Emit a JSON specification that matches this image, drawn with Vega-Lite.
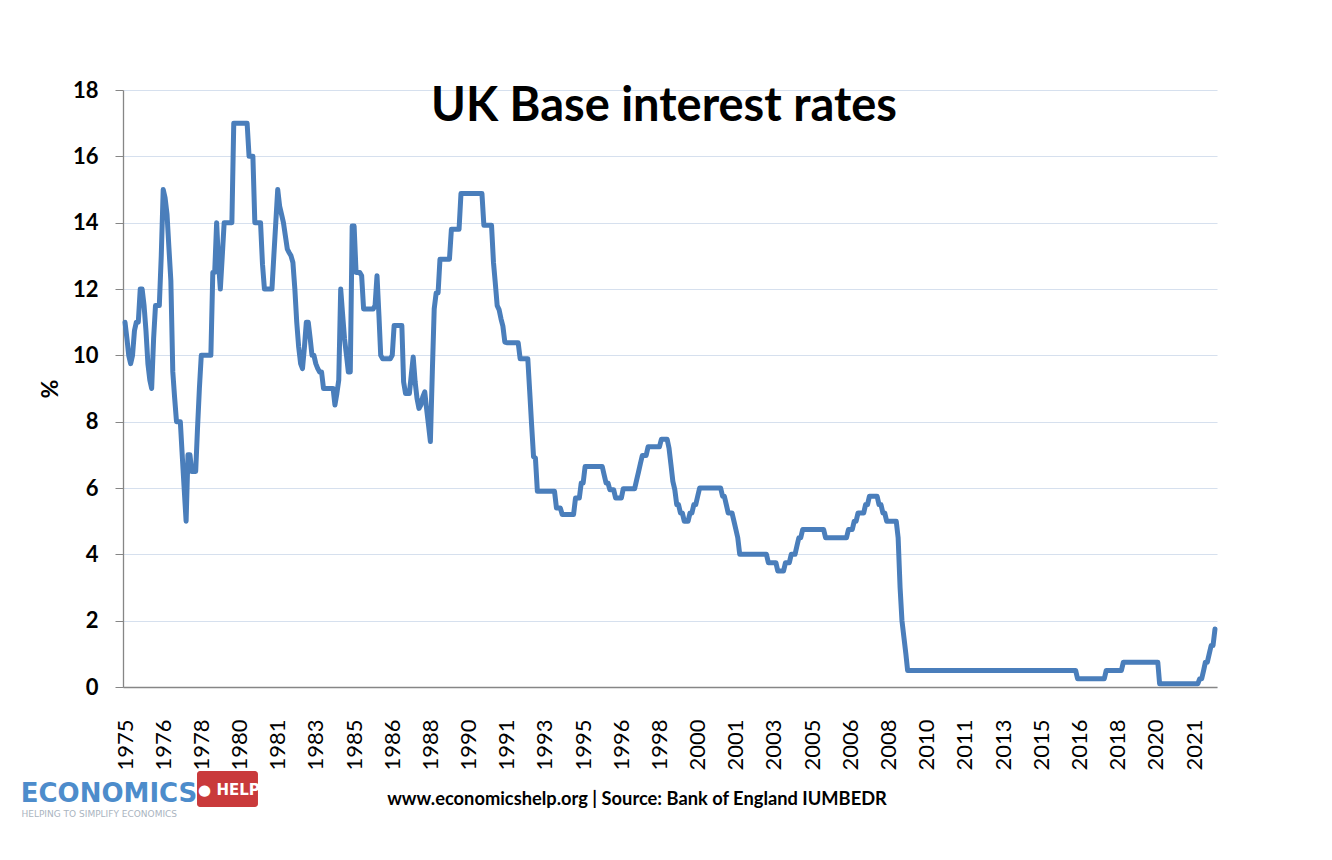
{
  "$schema": "https://vega.github.io/schema/vega-lite/v6.json",
  "width": 1094,
  "height": 597,
  "autosize": {"type": "none"},
  "padding": {"left": 123, "top": 90, "right": 115, "bottom": 173},
  "background": "white",
  "title": {"text": "UK Base interest rates", "font": "Lato", "fontSize": 47, "fontWeight": "bold", "color": "#000000", "anchor": "middle", "baseline": "alphabetic", "offset": 0, "dy": 89, "dx": -6},
  "config": {"view": {"stroke": null}, "axis": {"labelOverlap": false}, "axisX": {"labelOverlap": false, "labelFlush": false}},
  "resolve": {"axis": {"x": "independent", "y": "independent"}},
  "datasets": {
    "rates": [
      {"date":"1975-01","rate":11},{"date":"1975-02","rate":10.5},{"date":"1975-03","rate":10},{"date":"1975-04","rate":9.75},{"date":"1975-05","rate":10},{"date":"1975-06","rate":10.75},{"date":"1975-07","rate":11},{"date":"1975-08","rate":11},{"date":"1975-09","rate":12},{"date":"1975-10","rate":12},{"date":"1975-11","rate":11.5},{"date":"1975-12","rate":10.75},
      {"date":"1976-01","rate":9.75},{"date":"1976-02","rate":9.25},{"date":"1976-03","rate":9},{"date":"1976-04","rate":10.5},{"date":"1976-05","rate":11.5},{"date":"1976-06","rate":11.5},{"date":"1976-07","rate":11.5},{"date":"1976-08","rate":13},{"date":"1976-09","rate":15},{"date":"1976-10","rate":14.75},{"date":"1976-11","rate":14.25},{"date":"1976-12","rate":13.25},
      {"date":"1977-01","rate":12.25},{"date":"1977-02","rate":9.5},{"date":"1977-03","rate":8.75},{"date":"1977-04","rate":8},{"date":"1977-05","rate":8},{"date":"1977-06","rate":8},{"date":"1977-07","rate":7},{"date":"1977-08","rate":6},{"date":"1977-09","rate":5},{"date":"1977-10","rate":7},{"date":"1977-11","rate":7},{"date":"1977-12","rate":6.5},
      {"date":"1978-01","rate":6.5},{"date":"1978-02","rate":6.5},{"date":"1978-03","rate":7.75},{"date":"1978-04","rate":9},{"date":"1978-05","rate":10},{"date":"1978-06","rate":10},{"date":"1978-07","rate":10},{"date":"1978-08","rate":10},{"date":"1978-09","rate":10},{"date":"1978-10","rate":10},{"date":"1978-11","rate":12.5},{"date":"1978-12","rate":12.5},
      {"date":"1979-01","rate":14},{"date":"1979-02","rate":12.75},{"date":"1979-03","rate":12},{"date":"1979-04","rate":13},{"date":"1979-05","rate":14},{"date":"1979-06","rate":14},{"date":"1979-07","rate":14},{"date":"1979-08","rate":14},{"date":"1979-09","rate":14},{"date":"1979-10","rate":17},{"date":"1979-11","rate":17},{"date":"1979-12","rate":17},
      {"date":"1980-01","rate":17},{"date":"1980-02","rate":17},{"date":"1980-03","rate":17},{"date":"1980-04","rate":17},{"date":"1980-05","rate":17},{"date":"1980-06","rate":16},{"date":"1980-07","rate":16},{"date":"1980-08","rate":16},{"date":"1980-09","rate":14},{"date":"1980-10","rate":14},{"date":"1980-11","rate":14},{"date":"1980-12","rate":14},
      {"date":"1981-01","rate":12.75},{"date":"1981-02","rate":12},{"date":"1981-03","rate":12},{"date":"1981-04","rate":12},{"date":"1981-05","rate":12},{"date":"1981-06","rate":12},{"date":"1981-07","rate":13},{"date":"1981-08","rate":14},{"date":"1981-09","rate":15},{"date":"1981-10","rate":14.5},{"date":"1981-11","rate":14.25},{"date":"1981-12","rate":14},
      {"date":"1982-01","rate":13.6},{"date":"1982-02","rate":13.2},{"date":"1982-03","rate":13.1},{"date":"1982-04","rate":13},{"date":"1982-05","rate":12.8},{"date":"1982-06","rate":12},{"date":"1982-07","rate":11},{"date":"1982-08","rate":10.25},{"date":"1982-09","rate":9.75},{"date":"1982-10","rate":9.6},{"date":"1982-11","rate":10.25},{"date":"1982-12","rate":11},
      {"date":"1983-01","rate":11},{"date":"1983-02","rate":10.5},{"date":"1983-03","rate":10},{"date":"1983-04","rate":10},{"date":"1983-05","rate":9.75},{"date":"1983-06","rate":9.6},{"date":"1983-07","rate":9.5},{"date":"1983-08","rate":9.5},{"date":"1983-09","rate":9},{"date":"1983-10","rate":9},{"date":"1983-11","rate":9},{"date":"1983-12","rate":9},
      {"date":"1984-01","rate":9},{"date":"1984-02","rate":9},{"date":"1984-03","rate":8.5},{"date":"1984-04","rate":8.85},{"date":"1984-05","rate":9.25},{"date":"1984-06","rate":12},{"date":"1984-07","rate":11.25},{"date":"1984-08","rate":10.5},{"date":"1984-09","rate":10},{"date":"1984-10","rate":9.5},{"date":"1984-11","rate":9.5},{"date":"1984-12","rate":13.9},
      {"date":"1985-01","rate":13.9},{"date":"1985-02","rate":12.5},{"date":"1985-03","rate":12.5},{"date":"1985-04","rate":12.5},{"date":"1985-05","rate":12.4},{"date":"1985-06","rate":11.4},{"date":"1985-07","rate":11.4},{"date":"1985-08","rate":11.4},{"date":"1985-09","rate":11.4},{"date":"1985-10","rate":11.4},{"date":"1985-11","rate":11.4},{"date":"1985-12","rate":11.5},
      {"date":"1986-01","rate":12.4},{"date":"1986-02","rate":11.2},{"date":"1986-03","rate":10},{"date":"1986-04","rate":9.9},{"date":"1986-05","rate":9.9},{"date":"1986-06","rate":9.9},{"date":"1986-07","rate":9.9},{"date":"1986-08","rate":9.9},{"date":"1986-09","rate":10},{"date":"1986-10","rate":10.9},{"date":"1986-11","rate":10.9},{"date":"1986-12","rate":10.9},
      {"date":"1987-01","rate":10.9},{"date":"1987-02","rate":10.9},{"date":"1987-03","rate":9.2},{"date":"1987-04","rate":8.85},{"date":"1987-05","rate":8.85},{"date":"1987-06","rate":8.85},{"date":"1987-07","rate":9.4},{"date":"1987-08","rate":9.95},{"date":"1987-09","rate":9.2},{"date":"1987-10","rate":8.7},{"date":"1987-11","rate":8.4},{"date":"1987-12","rate":8.5},
      {"date":"1988-01","rate":8.75},{"date":"1988-02","rate":8.9},{"date":"1988-03","rate":8.4},{"date":"1988-04","rate":7.9},{"date":"1988-05","rate":7.4},{"date":"1988-06","rate":9.5},{"date":"1988-07","rate":11.4},{"date":"1988-08","rate":11.88},{"date":"1988-09","rate":11.88},{"date":"1988-10","rate":12.9},{"date":"1988-11","rate":12.9},{"date":"1988-12","rate":12.9},
      {"date":"1989-01","rate":12.9},{"date":"1989-02","rate":12.9},{"date":"1989-03","rate":12.9},{"date":"1989-04","rate":13.8},{"date":"1989-05","rate":13.8},{"date":"1989-06","rate":13.8},{"date":"1989-07","rate":13.8},{"date":"1989-08","rate":13.8},{"date":"1989-09","rate":14.88},{"date":"1989-10","rate":14.88},{"date":"1989-11","rate":14.88},{"date":"1989-12","rate":14.88},
      {"date":"1990-01","rate":14.88},{"date":"1990-02","rate":14.88},{"date":"1990-03","rate":14.88},{"date":"1990-04","rate":14.88},{"date":"1990-05","rate":14.88},{"date":"1990-06","rate":14.88},{"date":"1990-07","rate":14.88},{"date":"1990-08","rate":14.88},{"date":"1990-09","rate":13.92},{"date":"1990-10","rate":13.92},{"date":"1990-11","rate":13.92},{"date":"1990-12","rate":13.92},
      {"date":"1991-01","rate":13.92},{"date":"1991-02","rate":12.8},{"date":"1991-03","rate":12.2},{"date":"1991-04","rate":11.5},{"date":"1991-05","rate":11.38},{"date":"1991-06","rate":11.1},{"date":"1991-07","rate":10.88},{"date":"1991-08","rate":10.4},{"date":"1991-09","rate":10.38},{"date":"1991-10","rate":10.38},{"date":"1991-11","rate":10.38},{"date":"1991-12","rate":10.38},
      {"date":"1992-01","rate":10.38},{"date":"1992-02","rate":10.38},{"date":"1992-03","rate":10.38},{"date":"1992-04","rate":9.9},{"date":"1992-05","rate":9.9},{"date":"1992-06","rate":9.9},{"date":"1992-07","rate":9.9},{"date":"1992-08","rate":9.9},{"date":"1992-09","rate":8.9},{"date":"1992-10","rate":7.9},{"date":"1992-11","rate":6.94},{"date":"1992-12","rate":6.9},
      {"date":"1993-01","rate":5.9},{"date":"1993-02","rate":5.9},{"date":"1993-03","rate":5.9},{"date":"1993-04","rate":5.9},{"date":"1993-05","rate":5.9},{"date":"1993-06","rate":5.9},{"date":"1993-07","rate":5.9},{"date":"1993-08","rate":5.9},{"date":"1993-09","rate":5.9},{"date":"1993-10","rate":5.9},{"date":"1993-11","rate":5.4},{"date":"1993-12","rate":5.4},
      {"date":"1994-01","rate":5.4},{"date":"1994-02","rate":5.2},{"date":"1994-03","rate":5.2},{"date":"1994-04","rate":5.2},{"date":"1994-05","rate":5.2},{"date":"1994-06","rate":5.2},{"date":"1994-07","rate":5.2},{"date":"1994-08","rate":5.2},{"date":"1994-09","rate":5.7},{"date":"1994-10","rate":5.7},{"date":"1994-11","rate":5.7},{"date":"1994-12","rate":6.15},
      {"date":"1995-01","rate":6.15},{"date":"1995-02","rate":6.65},{"date":"1995-03","rate":6.65},{"date":"1995-04","rate":6.65},{"date":"1995-05","rate":6.65},{"date":"1995-06","rate":6.65},{"date":"1995-07","rate":6.65},{"date":"1995-08","rate":6.65},{"date":"1995-09","rate":6.65},{"date":"1995-10","rate":6.65},{"date":"1995-11","rate":6.65},{"date":"1995-12","rate":6.4},
      {"date":"1996-01","rate":6.15},{"date":"1996-02","rate":6.15},{"date":"1996-03","rate":5.95},{"date":"1996-04","rate":5.95},{"date":"1996-05","rate":5.95},{"date":"1996-06","rate":5.7},{"date":"1996-07","rate":5.7},{"date":"1996-08","rate":5.7},{"date":"1996-09","rate":5.7},{"date":"1996-10","rate":5.98},{"date":"1996-11","rate":5.98},{"date":"1996-12","rate":5.98},
      {"date":"1997-01","rate":5.98},{"date":"1997-02","rate":5.98},{"date":"1997-03","rate":5.98},{"date":"1997-04","rate":5.98},{"date":"1997-05","rate":6.23},{"date":"1997-06","rate":6.48},{"date":"1997-07","rate":6.73},{"date":"1997-08","rate":6.98},{"date":"1997-09","rate":6.98},{"date":"1997-10","rate":6.98},{"date":"1997-11","rate":7.24},{"date":"1997-12","rate":7.24},
      {"date":"1998-01","rate":7.24},{"date":"1998-02","rate":7.24},{"date":"1998-03","rate":7.24},{"date":"1998-04","rate":7.24},{"date":"1998-05","rate":7.24},{"date":"1998-06","rate":7.47},{"date":"1998-07","rate":7.47},{"date":"1998-08","rate":7.47},{"date":"1998-09","rate":7.47},{"date":"1998-10","rate":7.2},{"date":"1998-11","rate":6.7},{"date":"1998-12","rate":6.2},
      {"date":"1999-01","rate":5.95},{"date":"1999-02","rate":5.5},{"date":"1999-03","rate":5.5},{"date":"1999-04","rate":5.25},{"date":"1999-05","rate":5.25},{"date":"1999-06","rate":5},{"date":"1999-07","rate":5},{"date":"1999-08","rate":5},{"date":"1999-09","rate":5.25},{"date":"1999-10","rate":5.25},{"date":"1999-11","rate":5.5},{"date":"1999-12","rate":5.5},
      {"date":"2000-01","rate":5.75},{"date":"2000-02","rate":6},{"date":"2000-03","rate":6},{"date":"2000-04","rate":6},{"date":"2000-05","rate":6},{"date":"2000-06","rate":6},{"date":"2000-07","rate":6},{"date":"2000-08","rate":6},{"date":"2000-09","rate":6},{"date":"2000-10","rate":6},{"date":"2000-11","rate":6},{"date":"2000-12","rate":6},
      {"date":"2001-01","rate":6},{"date":"2001-02","rate":5.75},{"date":"2001-03","rate":5.75},{"date":"2001-04","rate":5.5},{"date":"2001-05","rate":5.25},{"date":"2001-06","rate":5.25},{"date":"2001-07","rate":5.25},{"date":"2001-08","rate":5},{"date":"2001-09","rate":4.75},{"date":"2001-10","rate":4.5},{"date":"2001-11","rate":4},{"date":"2001-12","rate":4},
      {"date":"2002-01","rate":4},{"date":"2002-02","rate":4},{"date":"2002-03","rate":4},{"date":"2002-04","rate":4},{"date":"2002-05","rate":4},{"date":"2002-06","rate":4},{"date":"2002-07","rate":4},{"date":"2002-08","rate":4},{"date":"2002-09","rate":4},{"date":"2002-10","rate":4},{"date":"2002-11","rate":4},{"date":"2002-12","rate":4},
      {"date":"2003-01","rate":4},{"date":"2003-02","rate":3.75},{"date":"2003-03","rate":3.75},{"date":"2003-04","rate":3.75},{"date":"2003-05","rate":3.75},{"date":"2003-06","rate":3.75},{"date":"2003-07","rate":3.5},{"date":"2003-08","rate":3.5},{"date":"2003-09","rate":3.5},{"date":"2003-10","rate":3.5},{"date":"2003-11","rate":3.75},{"date":"2003-12","rate":3.75},
      {"date":"2004-01","rate":3.75},{"date":"2004-02","rate":4},{"date":"2004-03","rate":4},{"date":"2004-04","rate":4},{"date":"2004-05","rate":4.25},{"date":"2004-06","rate":4.5},{"date":"2004-07","rate":4.5},{"date":"2004-08","rate":4.75},{"date":"2004-09","rate":4.75},{"date":"2004-10","rate":4.75},{"date":"2004-11","rate":4.75},{"date":"2004-12","rate":4.75},
      {"date":"2005-01","rate":4.75},{"date":"2005-02","rate":4.75},{"date":"2005-03","rate":4.75},{"date":"2005-04","rate":4.75},{"date":"2005-05","rate":4.75},{"date":"2005-06","rate":4.75},{"date":"2005-07","rate":4.75},{"date":"2005-08","rate":4.5},{"date":"2005-09","rate":4.5},{"date":"2005-10","rate":4.5},{"date":"2005-11","rate":4.5},{"date":"2005-12","rate":4.5},
      {"date":"2006-01","rate":4.5},{"date":"2006-02","rate":4.5},{"date":"2006-03","rate":4.5},{"date":"2006-04","rate":4.5},{"date":"2006-05","rate":4.5},{"date":"2006-06","rate":4.5},{"date":"2006-07","rate":4.5},{"date":"2006-08","rate":4.75},{"date":"2006-09","rate":4.75},{"date":"2006-10","rate":4.75},{"date":"2006-11","rate":5},{"date":"2006-12","rate":5},
      {"date":"2007-01","rate":5.25},{"date":"2007-02","rate":5.25},{"date":"2007-03","rate":5.25},{"date":"2007-04","rate":5.25},{"date":"2007-05","rate":5.5},{"date":"2007-06","rate":5.5},{"date":"2007-07","rate":5.75},{"date":"2007-08","rate":5.75},{"date":"2007-09","rate":5.75},{"date":"2007-10","rate":5.75},{"date":"2007-11","rate":5.75},{"date":"2007-12","rate":5.5},
      {"date":"2008-01","rate":5.5},{"date":"2008-02","rate":5.25},{"date":"2008-03","rate":5.25},{"date":"2008-04","rate":5},{"date":"2008-05","rate":5},{"date":"2008-06","rate":5},{"date":"2008-07","rate":5},{"date":"2008-08","rate":5},{"date":"2008-09","rate":5},{"date":"2008-10","rate":4.5},{"date":"2008-11","rate":3},{"date":"2008-12","rate":2},
      {"date":"2009-01","rate":1.5},{"date":"2009-02","rate":1},{"date":"2009-03","rate":0.5},{"date":"2009-04","rate":0.5},{"date":"2009-05","rate":0.5},{"date":"2009-06","rate":0.5},{"date":"2009-07","rate":0.5},{"date":"2009-08","rate":0.5},{"date":"2009-09","rate":0.5},{"date":"2009-10","rate":0.5},{"date":"2009-11","rate":0.5},{"date":"2009-12","rate":0.5},
      {"date":"2010-01","rate":0.5},{"date":"2010-02","rate":0.5},{"date":"2010-03","rate":0.5},{"date":"2010-04","rate":0.5},{"date":"2010-05","rate":0.5},{"date":"2010-06","rate":0.5},{"date":"2010-07","rate":0.5},{"date":"2010-08","rate":0.5},{"date":"2010-09","rate":0.5},{"date":"2010-10","rate":0.5},{"date":"2010-11","rate":0.5},{"date":"2010-12","rate":0.5},
      {"date":"2011-01","rate":0.5},{"date":"2011-02","rate":0.5},{"date":"2011-03","rate":0.5},{"date":"2011-04","rate":0.5},{"date":"2011-05","rate":0.5},{"date":"2011-06","rate":0.5},{"date":"2011-07","rate":0.5},{"date":"2011-08","rate":0.5},{"date":"2011-09","rate":0.5},{"date":"2011-10","rate":0.5},{"date":"2011-11","rate":0.5},{"date":"2011-12","rate":0.5},
      {"date":"2012-01","rate":0.5},{"date":"2012-02","rate":0.5},{"date":"2012-03","rate":0.5},{"date":"2012-04","rate":0.5},{"date":"2012-05","rate":0.5},{"date":"2012-06","rate":0.5},{"date":"2012-07","rate":0.5},{"date":"2012-08","rate":0.5},{"date":"2012-09","rate":0.5},{"date":"2012-10","rate":0.5},{"date":"2012-11","rate":0.5},{"date":"2012-12","rate":0.5},
      {"date":"2013-01","rate":0.5},{"date":"2013-02","rate":0.5},{"date":"2013-03","rate":0.5},{"date":"2013-04","rate":0.5},{"date":"2013-05","rate":0.5},{"date":"2013-06","rate":0.5},{"date":"2013-07","rate":0.5},{"date":"2013-08","rate":0.5},{"date":"2013-09","rate":0.5},{"date":"2013-10","rate":0.5},{"date":"2013-11","rate":0.5},{"date":"2013-12","rate":0.5},
      {"date":"2014-01","rate":0.5},{"date":"2014-02","rate":0.5},{"date":"2014-03","rate":0.5},{"date":"2014-04","rate":0.5},{"date":"2014-05","rate":0.5},{"date":"2014-06","rate":0.5},{"date":"2014-07","rate":0.5},{"date":"2014-08","rate":0.5},{"date":"2014-09","rate":0.5},{"date":"2014-10","rate":0.5},{"date":"2014-11","rate":0.5},{"date":"2014-12","rate":0.5},
      {"date":"2015-01","rate":0.5},{"date":"2015-02","rate":0.5},{"date":"2015-03","rate":0.5},{"date":"2015-04","rate":0.5},{"date":"2015-05","rate":0.5},{"date":"2015-06","rate":0.5},{"date":"2015-07","rate":0.5},{"date":"2015-08","rate":0.5},{"date":"2015-09","rate":0.5},{"date":"2015-10","rate":0.5},{"date":"2015-11","rate":0.5},{"date":"2015-12","rate":0.5},
      {"date":"2016-01","rate":0.5},{"date":"2016-02","rate":0.5},{"date":"2016-03","rate":0.5},{"date":"2016-04","rate":0.5},{"date":"2016-05","rate":0.5},{"date":"2016-06","rate":0.5},{"date":"2016-07","rate":0.5},{"date":"2016-08","rate":0.25},{"date":"2016-09","rate":0.25},{"date":"2016-10","rate":0.25},{"date":"2016-11","rate":0.25},{"date":"2016-12","rate":0.25},
      {"date":"2017-01","rate":0.25},{"date":"2017-02","rate":0.25},{"date":"2017-03","rate":0.25},{"date":"2017-04","rate":0.25},{"date":"2017-05","rate":0.25},{"date":"2017-06","rate":0.25},{"date":"2017-07","rate":0.25},{"date":"2017-08","rate":0.25},{"date":"2017-09","rate":0.25},{"date":"2017-10","rate":0.25},{"date":"2017-11","rate":0.5},{"date":"2017-12","rate":0.5},
      {"date":"2018-01","rate":0.5},{"date":"2018-02","rate":0.5},{"date":"2018-03","rate":0.5},{"date":"2018-04","rate":0.5},{"date":"2018-05","rate":0.5},{"date":"2018-06","rate":0.5},{"date":"2018-07","rate":0.5},{"date":"2018-08","rate":0.75},{"date":"2018-09","rate":0.75},{"date":"2018-10","rate":0.75},{"date":"2018-11","rate":0.75},{"date":"2018-12","rate":0.75},
      {"date":"2019-01","rate":0.75},{"date":"2019-02","rate":0.75},{"date":"2019-03","rate":0.75},{"date":"2019-04","rate":0.75},{"date":"2019-05","rate":0.75},{"date":"2019-06","rate":0.75},{"date":"2019-07","rate":0.75},{"date":"2019-08","rate":0.75},{"date":"2019-09","rate":0.75},{"date":"2019-10","rate":0.75},{"date":"2019-11","rate":0.75},{"date":"2019-12","rate":0.75},
      {"date":"2020-01","rate":0.75},{"date":"2020-02","rate":0.75},{"date":"2020-03","rate":0.1},{"date":"2020-04","rate":0.1},{"date":"2020-05","rate":0.1},{"date":"2020-06","rate":0.1},{"date":"2020-07","rate":0.1},{"date":"2020-08","rate":0.1},{"date":"2020-09","rate":0.1},{"date":"2020-10","rate":0.1},{"date":"2020-11","rate":0.1},{"date":"2020-12","rate":0.1},
      {"date":"2021-01","rate":0.1},{"date":"2021-02","rate":0.1},{"date":"2021-03","rate":0.1},{"date":"2021-04","rate":0.1},{"date":"2021-05","rate":0.1},{"date":"2021-06","rate":0.1},{"date":"2021-07","rate":0.1},{"date":"2021-08","rate":0.1},{"date":"2021-09","rate":0.1},{"date":"2021-10","rate":0.1},{"date":"2021-11","rate":0.1},{"date":"2021-12","rate":0.25},
      {"date":"2022-01","rate":0.25},{"date":"2022-02","rate":0.5},{"date":"2022-03","rate":0.75},{"date":"2022-04","rate":0.75},{"date":"2022-05","rate":1},{"date":"2022-06","rate":1.25},{"date":"2022-07","rate":1.25},{"date":"2022-08","rate":1.75}
    ]
  },
  "layer": [
    {
      "data": {"name": "rates"},
      "mark": {"type": "line", "color": "#4a7ebb", "strokeWidth": 5, "strokeJoin": "round", "strokeCap": "round"},
      "encoding": {
        "x": {
          "field": "date", "type": "temporal",
          "scale": {"type": "utc", "domain": [{"year": 1974, "month": 11, "date": 30, "utc": true}, {"year": 2022, "month": 9, "date": 2, "utc": true}]},
          "axis": {
            "values": [
              {"year":1975,"month":1,"utc":true},{"year":1976,"month":9,"utc":true},{"year":1978,"month":5,"utc":true},
              {"year":1980,"month":1,"utc":true},{"year":1981,"month":9,"utc":true},{"year":1983,"month":5,"utc":true},
              {"year":1985,"month":1,"utc":true},{"year":1986,"month":9,"utc":true},{"year":1988,"month":5,"utc":true},
              {"year":1990,"month":1,"utc":true},{"year":1991,"month":9,"utc":true},{"year":1993,"month":5,"utc":true},
              {"year":1995,"month":1,"utc":true},{"year":1996,"month":9,"utc":true},{"year":1998,"month":5,"utc":true},
              {"year":2000,"month":1,"utc":true},{"year":2001,"month":9,"utc":true},{"year":2003,"month":5,"utc":true},
              {"year":2005,"month":1,"utc":true},{"year":2006,"month":9,"utc":true},{"year":2008,"month":5,"utc":true},
              {"year":2010,"month":1,"utc":true},{"year":2011,"month":9,"utc":true},{"year":2013,"month":5,"utc":true},
              {"year":2015,"month":1,"utc":true},{"year":2016,"month":9,"utc":true},{"year":2018,"month":5,"utc":true},
              {"year":2020,"month":1,"utc":true},{"year":2021,"month":9,"utc":true}
            ],
            "format": "%Y",
            "labelAngle": 270,
            "labelFont": "Lato",
            "labelFontSize": 22,
            "labelColor": "#000000",
            "labelPadding": 32,
            "labelOverlap": false,
            "labelFlush": false,
            "ticks": false,
            "grid": false,
            "domain": true,
            "domainColor": "#868686",
            "domainWidth": 1.3,
            "title": "www.economicshelp.org | Source: Bank of England IUMBEDR",
            "titleFont": "Lato",
            "titleFontSize": 18.3,
            "titleFontWeight": "bold",
            "titleColor": "#000000",
            "titleX": 513.5,
            "titleY": 117.5,
            "titleAlign": "center",
            "titleBaseline": "alphabetic"
          }
        },
        "y": {
          "field": "rate", "type": "quantitative",
          "scale": {"domain": [0, 18], "nice": false},
          "axis": {
            "values": [0, 2, 4, 6, 8, 10, 12, 14, 16, 18],
            "labelFont": "Lato",
            "labelFontSize": 22,
            "labelFontWeight": "bold",
            "labelColor": "#000000",
            "labelPadding": 17,
            "tickSize": 8,
            "tickColor": "#868686",
            "domainColor": "#868686",
            "domainWidth": 1.3,
            "grid": true,
            "gridColor": "#d6e0ee",
            "gridWidth": 1.2,
            "title": "%",
            "titleFont": "Lato",
            "titleFontSize": 23,
            "titleFontWeight": "bold",
            "titleColor": "#000000",
            "titleAngle": 270,
            "titleX": -73,
            "titleY": 298.5,
            "titleAlign": "center",
            "titleBaseline": "middle"
          }
        }
      }
    },
    {
      "data": {"values": [{}]},
      "mark": {"type": "rect", "color": "#c93a3b", "cornerRadius": 3},
      "encoding": {
        "x": {"datum": {"year": 1978, "month": 2, "date": 22, "utc": true}, "type": "temporal", "axis": null},
        "x2": {"datum": {"year": 1980, "month": 10, "date": 21, "utc": true}},
        "y": {"datum": -2.53, "type": "quantitative", "axis": null},
        "y2": {"datum": -3.62}
      }
    },
    {
      "data": {"values": [{}]},
      "mark": {"type": "text", "align": "center", "baseline": "alphabetic", "font": "DejaVu Sans", "fontWeight": "bold", "fontSize": 15, "color": "#ffffff"},
      "encoding": {
        "x": {"datum": {"year": 1979, "month": 7, "date": 16, "utc": true}, "type": "temporal", "axis": null},
        "y": {"datum": -3.26, "type": "quantitative", "axis": null},
        "text": {"value": "● HELP"}
      }
    },
    {
      "data": {"values": [{}]},
      "mark": {"type": "text", "align": "left", "baseline": "alphabetic", "font": "DejaVu Sans", "fontWeight": "bold", "fontSize": 26, "color": "#4d8ccb"},
      "encoding": {
        "x": {"datum": {"year": 1970, "month": 6, "date": 13, "utc": true}, "type": "temporal", "axis": null},
        "y": {"datum": -3.46, "type": "quantitative", "axis": null},
        "text": {"value": "ECONOMICS"}
      }
    },
    {
      "data": {"values": [{}]},
      "mark": {"type": "text", "align": "left", "baseline": "alphabetic", "font": "DejaVu Sans", "fontSize": 9, "color": "#aab4c0"},
      "encoding": {
        "x": {"datum": {"year": 1970, "month": 6, "date": 25, "utc": true}, "type": "temporal", "axis": null},
        "y": {"datum": -3.92, "type": "quantitative", "axis": null},
        "text": {"value": "HELPING TO SIMPLIFY ECONOMICS"}
      }
    }
  ]
}
